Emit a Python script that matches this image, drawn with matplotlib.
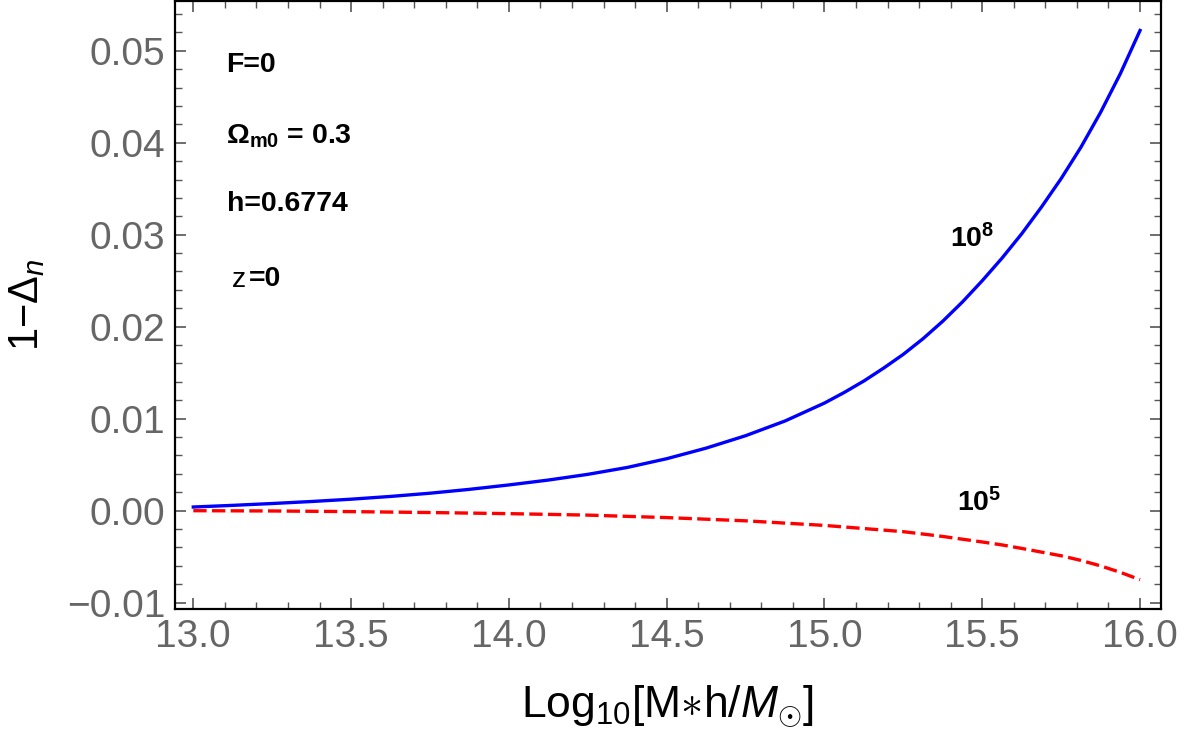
import matplotlib
matplotlib.use("Agg")
import matplotlib.pyplot as plt
from matplotlib.ticker import MultipleLocator, FuncFormatter

plt.rcParams['font.family'] = ['Liberation Sans', 'DejaVu Sans']
plt.rcParams['mathtext.fontset'] = 'custom'
plt.rcParams['mathtext.rm'] = 'Liberation Sans'
plt.rcParams['mathtext.it'] = 'Liberation Sans:italic'
plt.rcParams['mathtext.bf'] = 'Liberation Sans:bold'

# Data
log_mass_blue = [13.0, 13.125, 13.25, 13.375, 13.5, 13.625, 13.75, 13.875, 14.0,
                 14.125, 14.25, 14.375, 14.5, 14.625, 14.75, 14.875, 15.0,
                 15.0625, 15.125, 15.1875, 15.25, 15.3125, 15.375, 15.4375, 15.5,
                 15.5625, 15.625, 15.6875, 15.75, 15.8125, 15.875, 15.9375, 16.0]
delta_1e8 = [0.00040, 0.00058, 0.00078, 0.00100, 0.00125, 0.00155, 0.00190, 0.00232,
             0.00280, 0.00333, 0.00395, 0.00470, 0.00565, 0.00680, 0.00815, 0.00975,
             0.01170, 0.01285, 0.01410, 0.01550, 0.01700, 0.01870, 0.02060, 0.02270,
             0.02500, 0.02745, 0.03010, 0.03300, 0.03610, 0.03950, 0.04330, 0.04750,
             0.05220]

log_mass_red = [13.0, 13.25, 13.5, 13.75, 14.0, 14.25, 14.5, 14.75, 15.0,
                15.25, 15.375, 15.5, 15.5625, 15.625, 15.6875, 15.75, 15.8125,
                15.875, 15.9375, 16.0]
delta_1e5 = [0.0, -0.00003, -0.00010, -0.00020, -0.00032, -0.00048, -0.00075,
             -0.00110, -0.00160, -0.00228, -0.00280, -0.00340, -0.00372, -0.00410,
             -0.00450, -0.00490, -0.00540, -0.00600, -0.00670, -0.00750]

x_ticks = [13.0, 13.5, 14.0, 14.5, 15.0, 15.5, 16.0]
y_ticks = [-0.01, 0.0, 0.01, 0.02, 0.03, 0.04, 0.05]

fig = plt.figure(figsize=(11.84, 7.32), dpi=100)
ax = fig.add_axes([0.1478, 0.1676, 0.8324, 0.831])

ax.plot(log_mass_blue, delta_1e8, color=(0, 0, 1), lw=2.4,
        solid_joinstyle='round')
ax.plot(log_mass_red, delta_1e5, color=(1, 0, 0), lw=2.4, dashes=(4.0, 1.6))

ax.set_xlim(12.942, 16.065)
ax.set_ylim(-0.01072, 0.0554)
ax.set_xticks(x_ticks)
ax.set_yticks(y_ticks)
ax.xaxis.set_minor_locator(MultipleLocator(0.1))
ax.yaxis.set_minor_locator(MultipleLocator(0.002))
ax.xaxis.set_major_formatter(FuncFormatter(lambda v, p: f'{v:.1f}'))
ax.yaxis.set_major_formatter(
    FuncFormatter(lambda v, p: f'{v:.2f}'.replace('-', '\u2212')))

tick_grey = '#666666'
ax.tick_params(which='both', direction='in', top=True, right=True,
               color='#555555', labelcolor=tick_grey, labelsize=28)
ax.tick_params(which='major', length=8, width=1.2)
ax.tick_params(which='minor', length=5, width=1.0)
ax.tick_params(axis='x', which='major', pad=7)
ax.tick_params(axis='y', which='major', pad=7)
for s in ax.spines.values():
    s.set_linewidth(1.6)
    s.set_color('black')

ax.set_xlabel(r'Log$_{10}$[M$\ast$h/$M_{\odot}$]', fontsize=32, labelpad=21)
ax.set_ylabel(r'1$-\Delta_{n}$', fontsize=30, labelpad=14)

ann_size = 20.5
ann = dict(fontsize=ann_size, fontweight='bold', color='black', va='center',
           ha='left', transform=fig.transFigure)
W, H = 1184.0, 732.0
fig.text(226 / W, 1 - 65 / H, 'F=0', **ann)
fig.text(226 / W, 1 - 136 / H, r'$\mathbf{\Omega_{m0}}$ = 0.3', **ann)
fig.text(227 / W, 1 - 204 / H, 'h=0.6774', **ann)
fig.text(232 / W, 1 - 280 / H, 'z', fontsize=ann_size, color='black',
         va='center', ha='left', transform=fig.transFigure)
fig.text(249 / W, 1 - 279 / H, '=0', **ann)
fig.text(950 / W, 1 - 239 / H, r'$\mathbf{10^{8}}$', **ann)
fig.text(957 / W, 1 - 503 / H, r'$\mathbf{10^{5}}$', **ann)

fig.savefig('out.png', dpi=100)
